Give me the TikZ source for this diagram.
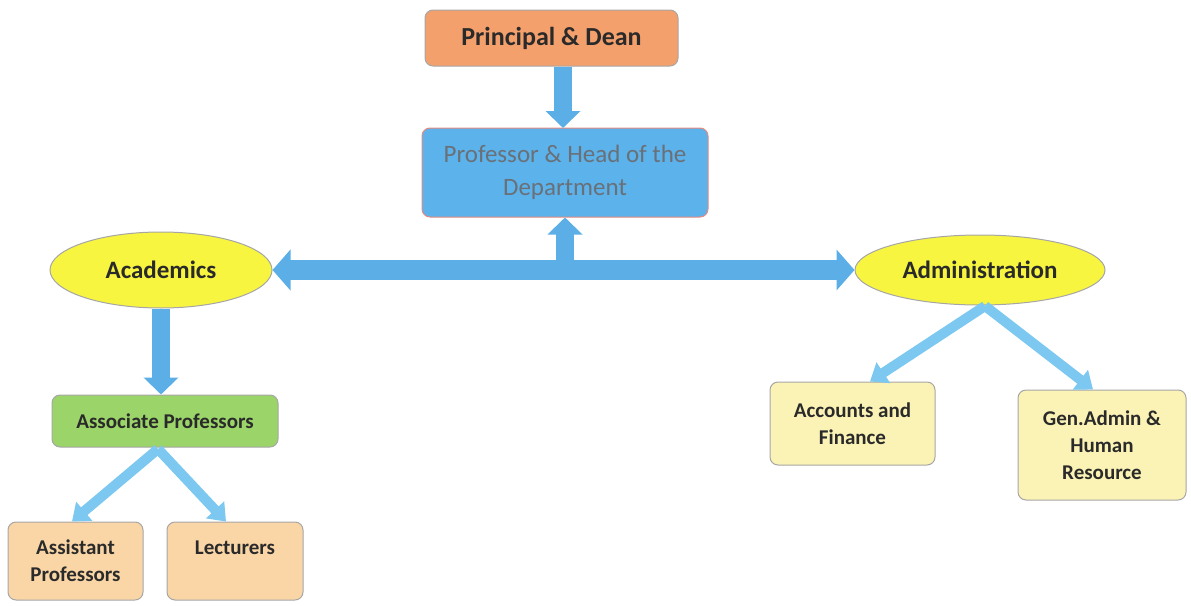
\documentclass[tikz,border=0pt]{standalone}
\usepackage{fontspec}
\setmainfont{Carlito}
\usetikzlibrary{shapes.geometric,arrows.meta}
\definecolor{orangebox}{HTML}{F4A06C}
\definecolor{bluebox}{HTML}{5CB2EA}
\definecolor{blueline}{HTML}{E58A80}
\definecolor{greenbox}{HTML}{9BD468}
\definecolor{peachbox}{HTML}{FAD6A6}
\definecolor{creambox}{HTML}{FBF3B5}
\definecolor{ellfill}{HTML}{F8F540}
\definecolor{arrowblue}{HTML}{5BAEE6}
\definecolor{arrowlight}{HTML}{7CC8F0}
\definecolor{txt}{HTML}{2A2A2A}
\definecolor{graytxt}{HTML}{6A7078}
\tikzset{
  box/.style={draw=gray!70, line width=1pt, rounded corners=8pt, align=center, inner sep=0pt, text=txt, font=\bfseries},
  oval/.style={ellipse, draw=gray!70, line width=1pt, fill=ellfill, inner sep=0pt, text=txt, font=\fontsize{25}{30}\selectfont\bfseries},
  smalltext/.style={font=\fontsize{21}{27}\selectfont\bfseries},
  bigarrow/.style={draw=arrowblue, line width=18pt, -{Triangle[length=17pt,width=34pt]}},
  bigdouble/.style={draw=arrowblue, line width=20pt, {Triangle[length=18pt,width=40pt]}-{Triangle[length=18pt,width=40pt]}},
  smallarrow/.style={draw=arrowlight, line width=10pt, -{Triangle[length=16pt,width=24pt]}},
}
\begin{document}
\begin{tikzpicture}[x=1pt,y=-1pt]
\useasboundingbox (0,0) rectangle (1191,605);
% nodes
\node[box, fill=orangebox, minimum width=253pt, minimum height=56pt, font=\fontsize{26}{30}\selectfont\bfseries] (pd) at (551.5,38) {Principal \& Dean};
\node[box, draw=blueline, fill=bluebox, minimum width=286pt, minimum height=89pt, text=graytxt, font=\fontsize{25}{33}\selectfont] (phd) at (565,172.5) {Professor \& Head of the\\Department};
\node[oval, minimum width=222pt, minimum height=76pt] (acad) at (161,270) {Academics};
\node[oval, minimum width=250pt, minimum height=70pt] (admin) at (980,270) {Administration};
\node[box, fill=greenbox, minimum width=226pt, minimum height=52pt, font=\fontsize{21}{25}\selectfont\bfseries] (assoc) at (165,421) {Associate Professors};
\node[box, smalltext, fill=peachbox, minimum width=135pt, minimum height=78pt] (asst) at (75.5,561) {Assistant\\Professors};
\node[box, smalltext, fill=peachbox, minimum width=136pt, minimum height=78pt] (lect) at (235,561) {Lecturers\\\phantom{Professors}};
\node[box, smalltext, fill=creambox, minimum width=165pt, minimum height=83pt] (acc) at (852.5,423.5) {Accounts and\\Finance};
\node[box, smalltext, fill=creambox, minimum width=168pt, minimum height=110pt] (gen) at (1102,445) {Gen.Admin \&\\Human\\Resource};
\coordinate (j) at (565,270);
\coordinate (asrc) at (158,449);
\coordinate (dsrc) at (985,306);
% connectors
\draw[bigarrow] (pd.south -| 563,0) -- (563,128);
\draw[bigdouble] (acad.east) -- (admin.west);
\draw[bigarrow] (j) -- (phd.south);
\draw[bigarrow] (acad.south) -- (assoc.north -| acad.south);
\draw[smallarrow] (asrc) -- (asst.north -| 72,0);
\draw[smallarrow] (asrc) -- (lect.north -| 226,0);
\draw[smallarrow] (dsrc) -- (acc.north -| 870,0);
\draw[smallarrow] (dsrc) -- (gen.north -| 1093,0);
\end{tikzpicture}
\end{document}
